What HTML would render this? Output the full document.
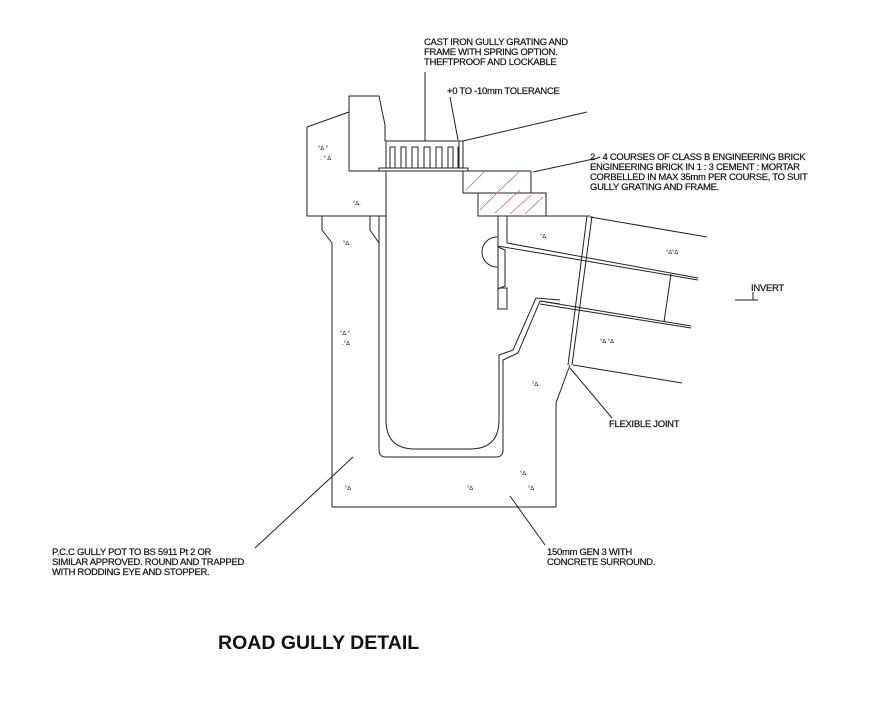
<!DOCTYPE html>
<html><head><meta charset="utf-8"><style>
html,body{margin:0;padding:0;background:#fff;}
svg{display:block}
text{font-family:"Liberation Sans",Arial,sans-serif;fill:#111;}
.t{font-size:9.5px;letter-spacing:-0.3px;stroke:#111;stroke-width:0.2px;}
</style></head><body>
<svg width="870" height="704" viewBox="0 0 870 704" xmlns="http://www.w3.org/2000/svg">
<g fill="none" stroke="#222" stroke-width="1">
<polyline points="349,112 307,127 307,216 386,216"/>
<polyline points="349,171 349,96 379,96 385,125 385,141"/>
<line x1="349" y1="171" x2="379" y2="171"/>
<polyline points="322,216 322,230 332,243 332,507 556,507 556,403 567,373 570,365"/>
<polyline points="370,216 370,230 379,243 379,450"/>
<path d="M379,216 L379,450 Q379,457 386,457 L496,457 Q503,457 503,450 L503,360 L518,353 L540,301 L560,304"/>
<path d="M386,171 L386,420 Q386,449 415,449 L470,449 Q499,449 499,420 L499,355 L513,350 L536,298 L560,300"/>
<rect x="386" y="141" width="77" height="27"/>
<polyline points="379,171 379,168 468,168 468,171 379,171"/>
<polyline points="390,168 390,147 395,147 395,168 401,168 401,147 406,147 406,168 412,168 412,147 418,147 418,168 424,168 424,147 430,147 430,168 436,168 436,147 442,147 442,168 448,168 448,147 453,147 453,168 458,168 458,147 459,147"/>
<line x1="459" y1="141" x2="459" y2="168"/>
<line x1="463" y1="141" x2="587" y2="112"/>
<rect x="463" y="171" width="68" height="22"/>
<rect x="478" y="193" width="68" height="23"/>
<line x1="546" y1="216" x2="590" y2="216"/>
<line x1="498" y1="216" x2="498" y2="309"/>
<line x1="507" y1="216" x2="507" y2="243"/>
<path d="M497,237 A15,15 0 0 0 497,267"/>
<polyline points="498,247 505,250 505,286 498,289"/>
<rect x="498" y="288" width="9" height="21"/>
<line x1="590" y1="217" x2="707" y2="237"/>
<line x1="507" y1="243" x2="698" y2="278"/>
<line x1="498" y1="246" x2="698" y2="280"/>
<line x1="540" y1="301" x2="691" y2="326"/>
<line x1="540" y1="304" x2="691" y2="328"/>
<line x1="671" y1="274" x2="664" y2="322"/>
<line x1="573" y1="365" x2="682" y2="383"/>
<line x1="587" y1="216" x2="568" y2="365"/>
<line x1="592" y1="216" x2="572" y2="365"/>
<line x1="425" y1="72" x2="425" y2="141"/>
<line x1="450" y1="97" x2="458" y2="140"/>
<line x1="533" y1="172" x2="598" y2="158"/>
<line x1="570" y1="368" x2="612" y2="418"/>
<line x1="353" y1="457" x2="255" y2="548"/>
<line x1="510" y1="496" x2="545" y2="545"/>
<line x1="735" y1="300" x2="758" y2="300"/>
<line x1="753" y1="292" x2="753" y2="300"/>
</g>
<g stroke="#c66" stroke-width="0.8">
<line x1="466" y1="190" x2="484" y2="172"/><line x1="480" y1="210" x2="500" y2="190"/>
<line x1="495" y1="213" x2="520" y2="190"/><line x1="510" y1="214" x2="531" y2="195"/>
<line x1="500" y1="190" x2="519" y2="172"/><line x1="525" y1="214" x2="543" y2="197"/>
</g>
<g fill="#333" font-size="6" font-family="Liberation Sans">
<text x="318" y="150">°∆ °</text><text x="320" y="160">. ° ∆</text>
<text x="353" y="205">°∆.</text><text x="343" y="245">°∆.</text>
<text x="340" y="335">°∆ °</text><text x="342" y="345">.°∆</text>
<text x="540" y="238">°∆.</text><text x="666" y="254">°∆°∆</text>
<text x="600" y="343">°∆ °∆</text><text x="532" y="386">°∆.</text>
<text x="345" y="490">°∆</text><text x="467" y="490">°∆</text>
<text x="520" y="475">°∆.</text><text x="528" y="490">°∆</text>
</g>
<text class="t" x="424" y="45">CAST IRON GULLY GRATING AND</text>
<text class="t" x="424" y="55">FRAME WITH SPRING OPTION.</text>
<text class="t" x="424" y="65">THEFTPROOF AND LOCKABLE</text>
<text class="t" x="447" y="94">+0 TO -10mm TOLERANCE</text>
<text class="t" x="590" y="160">2 - 4 COURSES OF CLASS B  ENGINEERING BRICK</text>
<text class="t" x="590" y="170">ENGINEERING BRICK IN 1 : 3 CEMENT : MORTAR</text>
<text class="t" x="590" y="180">CORBELLED IN MAX 35mm PER COURSE, TO SUIT</text>
<text class="t" x="590" y="190">GULLY GRATING AND FRAME.</text>
<text class="t" x="751" y="291">INVERT</text>
<text class="t" x="609" y="427">FLEXIBLE JOINT</text>
<text class="t" x="52" y="555">P.C.C GULLY POT TO BS 5911 Pt 2 OR</text>
<text class="t" x="52" y="565">SIMILAR APPROVED. ROUND AND TRAPPED</text>
<text class="t" x="52" y="575">WITH RODDING EYE AND STOPPER.</text>
<text class="t" x="547" y="555">150mm GEN 3 WITH</text>
<text class="t" x="547" y="565">CONCRETE SURROUND.</text>
<text x="218" y="649" font-size="19.5" font-weight="bold">ROAD GULLY DETAIL</text>
</svg>
</body></html>
